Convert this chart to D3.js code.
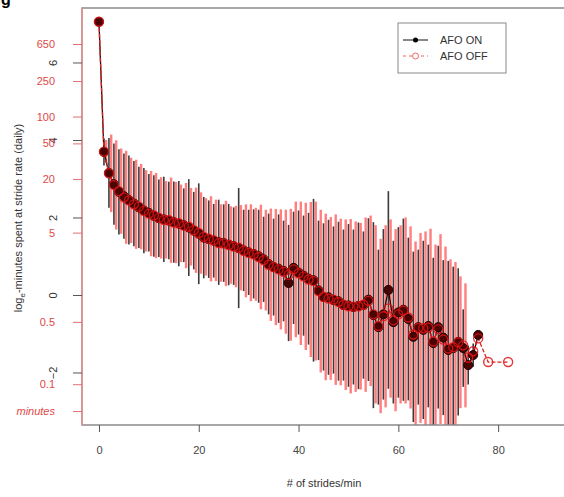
<!DOCTYPE html>
<html>
<head>
<meta charset="utf-8">
<script src="https://cdn.jsdelivr.net/npm/d3@7"></script>
<style>
  body { margin: 0; background: #fff; }
  svg { font-family: "Liberation Sans", Arial, sans-serif; }
</style>
</head>
<body>
<div id="chart"></div>
<script>
// AFO ON: strides/min, mean log_e minutes, half-width of bar
const onStrides = [0,1,2,3,4,5,6,7,8,9,10,11,12,13,14,15,16,17,18,19,20,21,22,23,24,25,26,27,28,29,30,31,32,33,34,35,36,37,38,39,40,41,42,43,44,45,46,47,48,49,50,51,52,53,54,55,56,57,58,59,60,61,62,63,64,65,66,67,68,69,70,71,72,73,74,75,76];
const onMean = [7.05,3.69,3.15,2.86,2.66,2.55,2.45,2.36,2.26,2.18,2.12,2.04,1.98,1.95,1.92,1.88,1.84,1.80,1.74,1.66,1.58,1.48,1.44,1.40,1.36,1.34,1.30,1.26,1.21,1.15,1.10,1.06,1.00,0.92,0.80,0.72,0.68,0.62,0.31,0.70,0.58,0.50,0.42,0.38,0.12,-0.05,-0.06,-0.13,-0.16,-0.26,-0.27,-0.31,-0.28,-0.26,-0.12,-0.52,-0.83,-0.50,0.13,-0.70,-0.45,-0.38,-0.62,-1.08,-0.83,-0.90,-0.80,-1.24,-0.83,-1.10,-1.42,-1.37,-1.21,-1.37,-1.81,-1.55,-1.03];
const onErr = [0,0.35,0.9,1.05,1.1,1.1,1.15,1.1,1.05,1.1,1.0,1.05,1.0,1.1,1.0,1.05,1.1,0.95,1.25,1.0,1.3,1.05,1.0,0.95,1.1,1.0,1.05,1.0,1.55,1.05,1.1,1.15,1.2,1.1,1.3,1.25,1.4,1.3,1.5,1.45,1.6,1.55,1.7,2.1,1.8,1.9,2.0,1.9,2.05,1.95,2.1,2.0,2.15,1.9,2.1,2.4,2.0,2.2,2.55,2.1,2.2,2.35,2.1,2.2,2.0,2.3,2.1,2.2,2.1,2.0,2.3,2.1,1.9,1.0,0.5,0.3,0];

// AFO OFF
const offStrides = [0,1,2,3,4,5,6,7,8,9,10,11,12,13,14,15,16,17,18,19,20,21,22,23,24,25,26,27,28,29,30,31,32,33,34,35,36,37,38,39,40,41,42,43,44,45,46,47,48,49,50,51,52,53,54,55,56,57,58,59,60,61,62,63,64,65,66,67,68,69,70,71,72,73,74,75,76,78,82];
const offMean = [7.05,3.70,3.14,2.84,2.68,2.52,2.44,2.34,2.28,2.17,2.10,2.05,1.99,1.94,1.93,1.87,1.85,1.79,1.76,1.67,1.60,1.50,1.45,1.41,1.34,1.33,1.29,1.25,1.22,1.14,1.09,1.05,0.98,0.90,0.78,0.72,0.66,0.60,0.52,0.66,0.56,0.48,0.40,0.36,0.10,-0.05,-0.09,-0.12,-0.18,-0.25,-0.29,-0.30,-0.29,-0.25,-0.15,-0.50,-0.80,-0.55,-0.35,-0.65,-0.50,-0.40,-0.58,-1.02,-0.85,-0.86,-0.84,-1.20,-0.88,-1.15,-1.38,-1.35,-1.22,-1.30,-1.62,-1.45,-1.12,-1.73,-1.73];
const offErr = [0,0.3,1.0,1.15,1.1,1.2,1.1,1.15,1.1,1.05,1.1,1.1,1.05,1.0,1.1,1.05,1.0,1.1,1.0,1.1,1.05,1.0,1.1,1.05,1.0,1.1,1.0,1.05,1.1,1.2,1.25,1.2,1.35,1.3,1.45,1.5,1.55,1.6,1.7,1.75,1.85,1.9,2.0,2.05,2.1,2.15,2.1,2.2,2.15,2.2,2.25,2.2,2.15,2.25,2.2,2.3,2.25,2.35,2.3,2.35,2.3,2.4,2.35,2.4,2.45,2.5,2.55,2.5,2.45,2.4,2.3,2.2,1.7,1.6,0,0,0,0,0];

// axis ticks
const xTicks = [0, 20, 40, 60, 80];
const logTicks = [6, 4, 2, 0, -2];
const minuteTicks = [650, 250, 100, 50, 20, 5, 0.5, 0.1, 0.05];
const minuteLabels = ["650", "250", "100", "50", "20", "5", "0.5", "0.1", "minutes"];

const width = 564, height = 497;
const plotLeft = 82, plotTop = 8, plotRight = 566, plotBottom = 425;

const svg = d3.select("#chart").append("svg")
    .attr("width", width)
    .attr("height", height);

const x = d3.scaleLinear().domain([-3.4, 93.6]).range([plotLeft, plotRight]);
const y = d3.scaleLinear().domain([-3.355, 7.406]).range([plotBottom, plotTop]);

svg.append("clipPath").attr("id", "plotClip")
  .append("rect")
    .attr("x", plotLeft).attr("y", plotTop)
    .attr("width", plotRight - plotLeft).attr("height", plotBottom - plotTop);

const onData = onStrides.map((s, i) => ({ s, m: onMean[i], e: onErr[i] }));
const offData = offStrides.map((s, i) => ({ s, m: offMean[i], e: offErr[i] }));

const plot = svg.append("g").attr("clip-path", "url(#plotClip)");

// error bars - black (on) then red (off), slightly offset
plot.selectAll(".barOn")
  .data(onData.filter(d => d.e > 0))
  .enter().append("line")
    .attr("x1", d => x(d.s)).attr("x2", d => x(d.s))
    .attr("y1", d => y(d.m + d.e)).attr("y2", d => y(d.m - d.e))
    .attr("stroke", "#1a1a1a")
    .attr("stroke-width", 1.6)
    .attr("opacity", 0.85);

plot.selectAll(".barOff")
  .data(offData.filter(d => d.e > 0))
  .enter().append("line")
    .attr("x1", d => x(d.s + 0.45)).attr("x2", d => x(d.s + 0.45))
    .attr("y1", d => y(d.m + d.e)).attr("y2", d => y(d.m - d.e))
    .attr("stroke", "#ff2a2a")
    .attr("stroke-width", 2.4)
    .attr("opacity", 0.6);

// lines
const line = d3.line().x(d => x(d.s)).y(d => y(d.m));
plot.append("path").datum(onData)
    .attr("d", line)
    .attr("fill", "none")
    .attr("stroke", "#2a0000")
    .attr("stroke-width", 1.3);
plot.append("path").datum(offData)
    .attr("d", line)
    .attr("fill", "none")
    .attr("stroke", "#e02020")
    .attr("stroke-width", 1.3)
    .attr("stroke-dasharray", "4,2");

// points
plot.selectAll(".ptOn")
  .data(onData)
  .enter().append("circle")
    .attr("cx", d => x(d.s)).attr("cy", d => y(d.m))
    .attr("r", 4.5)
    .attr("fill", "#4a0404")
    .attr("stroke", "#1a0000");

plot.selectAll(".ptOff")
  .data(offData)
  .enter().append("circle")
    .attr("cx", d => x(d.s)).attr("cy", d => y(d.m))
    .attr("r", 4.5)
    .attr("fill", "none")
    .attr("stroke", "#e01414")
    .attr("stroke-width", 1.4)
    .attr("opacity", 0.85);

// frame
svg.append("rect")
    .attr("x", plotLeft).attr("y", plotTop)
    .attr("width", plotRight - plotLeft).attr("height", plotBottom - plotTop)
    .attr("fill", "none")
    .attr("stroke", "#8a8a8a")
    .attr("stroke-width", 1.5);
svg.append("line")
    .attr("x1", plotLeft).attr("x2", plotLeft)
    .attr("y1", plotTop).attr("y2", plotBottom)
    .attr("stroke", "#e89090")
    .attr("stroke-width", 1.5);

// x axis
const xAxis = svg.append("g")
    .attr("transform", `translate(0,${plotBottom})`)
    .call(d3.axisBottom(x).tickValues(xTicks).tickSize(7).tickPadding(14));
xAxis.select(".domain").remove();
xAxis.selectAll("line").attr("stroke", "#555");
xAxis.selectAll("text").attr("fill", "#444").style("font-size", "11px");

// y axis - log_e values (black, rotated)
const yAxis = svg.append("g")
    .attr("transform", `translate(${plotLeft},0)`)
    .call(d3.axisLeft(y).tickValues(logTicks).tickSize(9).tickFormat(d3.format("d")));
yAxis.select(".domain").remove();
yAxis.selectAll("line").attr("stroke", "#555");
yAxis.selectAll("text")
    .attr("fill", "#333")
    .style("font-size", "11px")
    .attr("x", 0).attr("dy", 0)
    .attr("text-anchor", "middle")
    .attr("transform", "translate(-25,0) rotate(-90)");

// y axis - minutes (red, horizontal)
const yMin = svg.append("g")
    .attr("transform", `translate(${plotLeft},0)`)
    .call(d3.axisLeft(y)
        .tickValues(minuteTicks.map(m => Math.log(m)))
        .tickSize(9)
        .tickPadding(18)
        .tickFormat((d, i) => minuteLabels[i]));
yMin.select(".domain").remove();
yMin.selectAll("line").attr("stroke", "#e07070");
yMin.selectAll("text")
    .attr("fill", "#e04848")
    .style("font-size", "11px")
    .style("font-style", (d, i) => i === minuteLabels.length - 1 ? "italic" : "normal");

// axis titles
svg.append("text")
    .attr("x", (plotLeft + plotRight) / 2).attr("y", 487)
    .attr("text-anchor", "middle")
    .attr("fill", "#333")
    .style("font-size", "11px")
    .text("# of strides/min");

const yTitle = svg.append("text")
    .attr("transform", "translate(22,218) rotate(-90)")
    .attr("text-anchor", "middle")
    .attr("fill", "#333")
    .style("font-size", "11px");
yTitle.append("tspan").text("log");
yTitle.append("tspan").attr("dy", 3).style("font-size", "8px").text("e");
yTitle.append("tspan").attr("dy", -3).text("-minutes spent at stride rate (daily)");

// legend
const legend = svg.append("g").attr("transform", "translate(398,23)");
legend.append("rect")
    .attr("width", 108).attr("height", 50)
    .attr("fill", "#fff")
    .attr("stroke", "#888");
legend.append("line")
    .attr("x1", 5).attr("x2", 30).attr("y1", 17).attr("y2", 17)
    .attr("stroke", "#111");
legend.append("circle").attr("cx", 17.5).attr("cy", 17).attr("r", 2.5).attr("fill", "#000");
legend.append("line")
    .attr("x1", 5).attr("x2", 30).attr("y1", 33).attr("y2", 33)
    .attr("stroke", "#e66").attr("stroke-dasharray", "3,3");
legend.append("circle").attr("cx", 17.5).attr("cy", 33).attr("r", 3)
    .attr("fill", "#fff").attr("stroke", "#e66");
legend.append("text").attr("x", 42).attr("y", 21)
    .attr("fill", "#333").style("font-size", "11px").text("AFO ON");
legend.append("text").attr("x", 42).attr("y", 37)
    .attr("fill", "#333").style("font-size", "11px").text("AFO OFF");

// panel letter at the top-left, cropped as in the reference
svg.append("text")
    .attr("x", 1).attr("y", 5)
    .style("font-size", "16px").style("font-weight", "bold")
    .text("g");
</script>
</body>
</html>
